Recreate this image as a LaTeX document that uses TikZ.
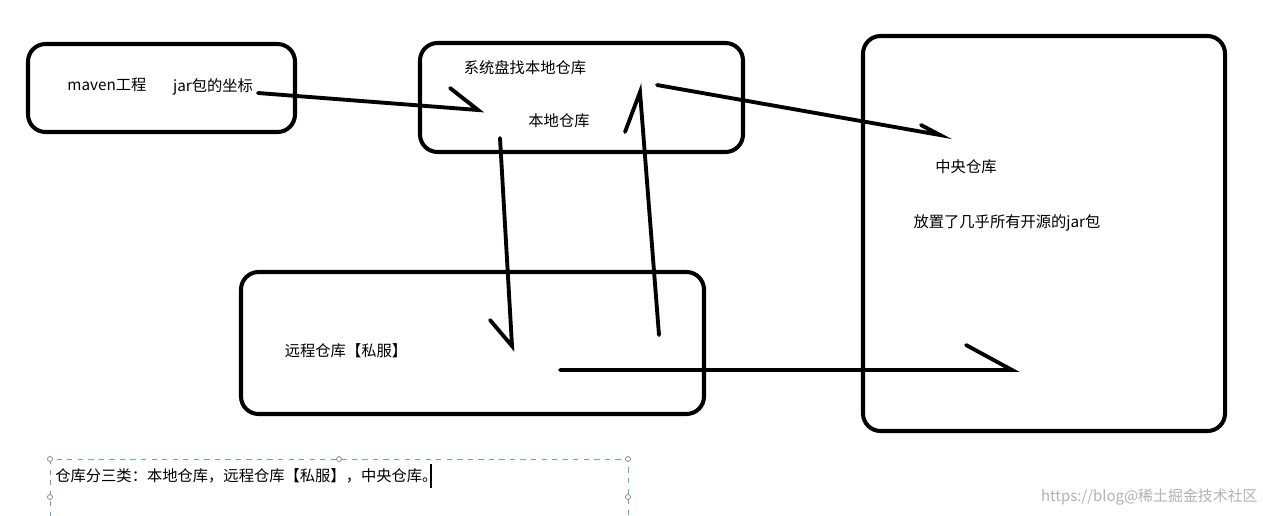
\documentclass[tikz,border=0pt]{standalone}
\usepackage{fontspec}
\setmainfont{Noto Sans CJK SC}
\begin{document}
\begin{tikzpicture}[x=0.02cm,y=-0.02cm,
  box/.style={draw,line width=2.3pt,rounded corners=10pt},
  stroke/.style={line width=2.2pt,line cap=round},
  lbl/.style={font=\fontsize{8.7}{9}\selectfont,inner sep=0pt}]
\useasboundingbox[fill=white] (0,0) rectangle (1263,515);
\draw[box] (28,44) rectangle (295,132);
\draw[box] (420,43) rectangle (743,152);
\draw[box] (863,36) rectangle (1225,431);
\draw[box] (241,272) rectangle (704,414);
\node[lbl] (mv) at (107,85) {maven工程};
\node[lbl] (jar) at (213,87) {jar包的坐标};
\node[lbl] (sys) at (525,68) {系统盘找本地仓库};
\node[lbl] (loc) at (559,121) {本地仓库};
\node[lbl] (cen) at (966,167) {中央仓库};
\node[lbl] (all) at (1007,223) {放置了几乎所有开源的jar包};
\node[lbl] (rem) at (346,351) {远程仓库【私服】};
\coordinate (a1s) at (258,93); \coordinate (a1e) at (478,110); \coordinate (a1h) at (450,88);
\coordinate (a2s) at (500,138); \coordinate (a2e) at (512,346); \coordinate (a2h) at (490,320);
\coordinate (a3s) at (659,335); \coordinate (a3e) at (640,92); \coordinate (a3h) at (625,132);
\coordinate (a4s) at (657,85); \coordinate (a4e) at (940,135); \coordinate (a4h) at (921,125);
\coordinate (a5s) at (560,370); \coordinate (a5e) at (1012,370); \coordinate (a5h) at (966,345);
\draw[stroke] (a1s) -- (a1e) -- (a1h);
\draw[stroke] (a2s) -- (a2e) -- (a2h);
\draw[stroke] (a3s) -- (a3e) -- (a3h);
\draw[stroke] (a4s) -- (a4e) -- (a4h);
\draw[stroke] (a5s) -- (a5e) -- (a5h);
\draw[dashed,draw=cyan!50!gray,line width=0.5pt] (50,459) rectangle (628,530);
\foreach \p in {(50,459),(339,459),(628,459),(50,497),(628,497)} \draw[gray,fill=white] \p circle (2.5);
\node[lbl,anchor=west] (note) at (55,476) {仓库分三类：本地仓库，远程仓库【私服】，中央仓库。};
\draw[line width=0.8pt] (431,464) -- (431,488);
\node[lbl,anchor=east,text=gray!60,font=\fontsize{8.5}{9}\selectfont] (wm) at (1258,497) {https://blog@稀土掘金技术社区};
\end{tikzpicture}
\end{document}
